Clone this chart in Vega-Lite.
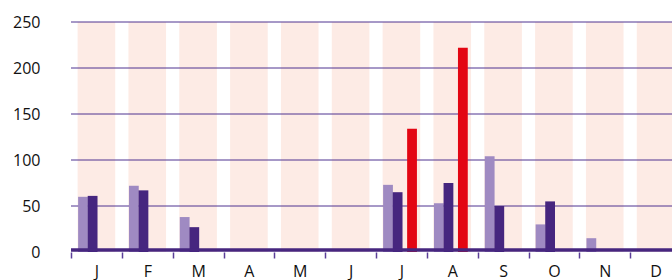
{
  "$schema": "https://vega.github.io/schema/vega-lite/v6.json",
  "width": 610,
  "height": 230,
  "autosize": "none",
  "padding": {"left": 71, "top": 22, "right": 0, "bottom": 28},
  "config": {
    "view": {"stroke": null},
    "font": "Open Sans",
    "axisX": {"domain": false, "ticks": true, "tickBand": "extent", "tickSize": 6, "tickColor": "#5b3f98", "tickWidth": 1.5, "labelFontSize": 16, "labelColor": "#111111", "labelPadding": 5, "labelAngle": 0, "grid": false, "title": null},
    "axisY": {"domain": false, "ticks": false, "grid": false, "labelFontSize": 16, "labelColor": "#111111", "labelPadding": 31, "title": null}
  },
  "datasets": {
    "rain": [
      {"month": "Jan", "s1": 60, "s2": 61, "s3": null},
      {"month": "Feb", "s1": 72, "s2": 67, "s3": null},
      {"month": "Mar", "s1": 38, "s2": 27, "s3": null},
      {"month": "Apr", "s1": 0, "s2": 0, "s3": null},
      {"month": "May", "s1": 0, "s2": 0, "s3": null},
      {"month": "Jun", "s1": 0, "s2": 0, "s3": null},
      {"month": "Jul", "s1": 73, "s2": 65, "s3": 134},
      {"month": "Aug", "s1": 53, "s2": 75, "s3": 222},
      {"month": "Sep", "s1": 104, "s2": 50, "s3": null},
      {"month": "Oct", "s1": 30, "s2": 55, "s3": null},
      {"month": "Nov", "s1": 15, "s2": 0, "s3": null},
      {"month": "Dec", "s1": 0, "s2": 0, "s3": null}
    ],
    "grid": [{"g": 50}, {"g": 100}, {"g": 150}, {"g": 200}, {"g": 250}]
  },
  "layer": [
    {
      "data": {"name": "rain"},
      "mark": {"type": "bar", "color": "#fdebe5", "width": {"band": 0.74}},
      "encoding": {
        "x": {"field": "month", "type": "nominal", "sort": null,
          "scale": {"domain": ["Jan","Feb","Mar","Apr","May","Jun","Jul","Aug","Sep","Oct","Nov","Dec"], "paddingInner": 0, "paddingOuter": 0},
          "axis": {"labelExpr": "substring(datum.label, 0, 1)"}},
        "y": {"datum": 250, "type": "quantitative", "scale": {"domain": [0, 250], "nice": false}, "axis": {"values": [0, 50, 100, 150, 200, 250]}},
        "y2": {"datum": 0}
      }
    },
    {
      "data": {"name": "grid"},
      "mark": {"type": "rule", "color": "#4f3290", "strokeWidth": 1},
      "encoding": {"y": {"field": "g", "type": "quantitative"}}
    },
    {
      "data": {"name": "rain"},
      "transform": [{"fold": ["s1", "s2", "s3"], "as": ["series", "value"]}],
      "mark": {"type": "bar", "width": 9.8},
      "encoding": {
        "x": {"field": "month", "type": "nominal", "sort": null,
          "axis": {"labelExpr": "substring(datum.label, 0, 1)"}},
        "xOffset": {"field": "series", "scale": {"domain": ["p1", "p2", "s1", "g1", "s2", "g2", "g3", "s3", "p3", "p4"], "paddingInner": 0, "paddingOuter": 0.29, "align": 0}},
        "y": {"field": "value", "type": "quantitative"},
        "color": {"field": "series", "scale": {"domain": ["s1", "s2", "s3"], "range": ["#9f8ac2", "#46267f", "#e30613"]}, "legend": null}
      }
    },
    {
      "data": {"values": [{}]},
      "mark": {"type": "rule", "color": "#46267f", "strokeWidth": 3.5, "yOffset": -2},
      "encoding": {"y": {"datum": 0}}
    }
  ]
}
